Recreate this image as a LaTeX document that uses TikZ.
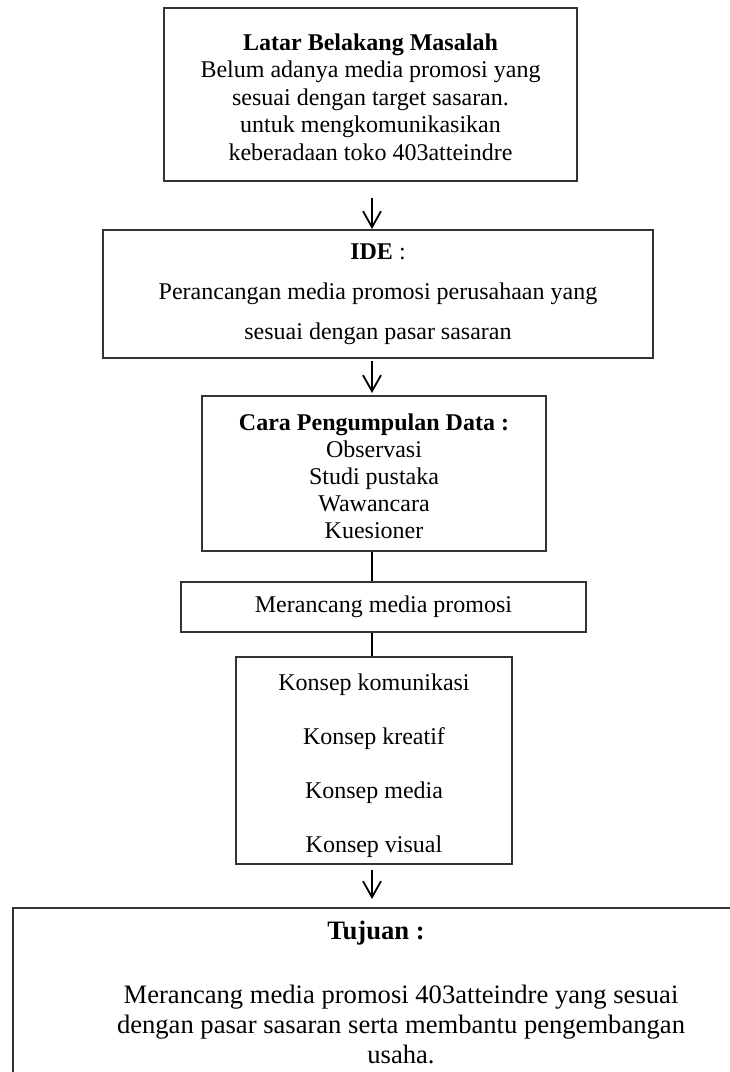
\documentclass[tikz,border=0pt]{standalone}
\usepackage{fontspec}
\setmainfont{Liberation Serif}
\usetikzlibrary{arrows.meta}
\begin{document}
\begin{tikzpicture}[x=0.5pt,y=-0.5pt,
  box/.style={draw=black!80, line width=1pt, inner sep=0pt, align=center},
  conn/.style={line width=0.9pt},
  arr/.style={line width=0.9pt, -{Straight Barb[length=8pt,width=9pt,line width=0.9pt]}}
]
\useasboundingbox (0,0) rectangle (729,1072);
\coordinate (ax) at (372,0);
\node[box, minimum width=206.5pt, minimum height=86.5pt, font=\fontsize{12}{13.8}\selectfont] (b1) at (370.5,94.5)
  {\rule{0pt}{11pt}\textbf{Latar Belakang Masalah}\\Belum adanya media promosi yang\\sesuai dengan target sasaran.\\untuk mengkomunikasikan\\keberadaan toko 403atteindre};
\node[box, minimum width=275pt, minimum height=64pt, font=\fontsize{12}{20}\selectfont] (b2) at (378,294)
  {\textbf{IDE} :\\Perancangan media promosi perusahaan yang\\sesuai dengan pasar sasaran};
\node[box, minimum width=172pt, minimum height=77.5pt, font=\fontsize{12}{13.5}\selectfont] (b3) at (374,473.5)
  {\rule{0pt}{11.5pt}\textbf{Cara Pengumpulan Data :}\\Observasi\\Studi pustaka\\Wawancara\\Kuesioner};
\node[box, minimum width=202.5pt, minimum height=25pt, font=\fontsize{12}{13.8}\selectfont] (b4) at (383.5,607)
  {Merancang media promosi};
\node[box, minimum width=138pt, minimum height=103.5pt, font=\fontsize{12}{27}\selectfont] (b5) at (374,760.5)
  {\rule{0pt}{13.5pt}Konsep komunikasi\\Konsep kreatif\\Konsep media\\Konsep visual};
\node[box, minimum width=366pt, minimum height=101pt] (b6) at (379,1009) {};
\node[font=\fontsize{13.3}{15}\selectfont\bfseries, inner sep=0pt] (t6) at (376,933) {Tujuan :};
\node[font=\fontsize{13.3}{15}\selectfont, align=center, inner sep=0pt] (p6) at (401,1024)
  {Merancang media promosi 403atteindre yang sesuai\\dengan pasar sasaran serta membantu pengembangan\\usaha.};
\draw[arr] ([yshift=-8pt]b1.south -| ax) -- (b2.north -| ax);
\draw[arr] ([yshift=-1pt]b2.south -| ax) -- ([yshift=1pt]b3.north -| ax);
\draw[conn] (b3.south -| ax) -- (b4.north -| ax);
\draw[conn] (b4.south -| ax) -- (b5.north -| ax);
\draw[arr] ([yshift=-2.5pt]b5.south -| ax) -- ([yshift=4pt]b6.north -| ax);
\end{tikzpicture}
\end{document}
